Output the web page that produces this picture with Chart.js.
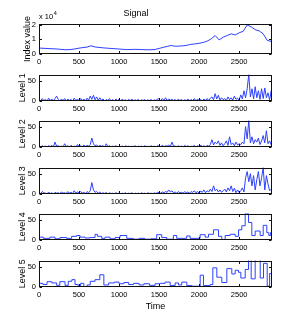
<!DOCTYPE html>
<html>
<head>
<meta charset="utf-8">
<script src="https://cdn.jsdelivr.net/npm/chart.js@4.4.1/dist/chart.umd.min.js"></script>
<style>
html, body { margin: 0; padding: 0; background: #fff; }
#wrap { position: relative; width: 300px; height: 327px; overflow: hidden; }
#wrap canvas { position: absolute; left: 0; }
</style>
</head>
<body>
<div id="wrap"></div>
<script>
const X_MAX = 2910;
const X_TICKS = [0, 500, 1000, 1500, 2000, 2500];
const LEVEL_TICKS = [0, 50];
const SIGNAL_TICKS = [0, 10000, 20000];
const Y_LABELS = ['Index value', 'Level 1', 'Level 2', 'Level 3', 'Level 4', 'Level 5'];

// index value, one reading every 50 time steps
const SIGNAL_STEP = 50;
const SIGNAL = [4100, 3900, 3800, 3600, 3500, 3300, 3000, 2900, 3100, 3500,
  4000, 4400, 4700, 5600, 4800, 4500, 4200, 4000, 3800, 3600,
  3400, 3200, 3000, 3100, 3200, 3100, 3000, 2900, 2900, 3100,
  3800, 4500, 5200, 5800, 5300, 5400, 5600, 6000, 6600, 6900,
  7300, 7900, 8800, 10300, 12600, 9600, 11500, 12600, 13800, 13000,
  14500, 15500, 19800, 18600, 16600, 15800, 13800, 9300, 8600];

// detail levels 1-3, one reading every 20 time steps
const NOISE_STEP = 20;
const LEVEL1 = [5,0,6,1,4,0,7,1,5,0, 6,12,4,0,5,1,6,0,5,1, 4,0,7,1,5,0,6,1,5,0,
  7,2,12,4,14,3,10,2,8,1,
  5,0,4,1,6,0,4,0,5,1, 4,0,5,1,3,0,4,1,5,0, 3,1,4,0,3,1,4,0,3,1, 4,0,3,1,5,
  5,1,6,2,8,1,5,2,4,1,
  4,0,5,1,4,0,3,1,5,0, 4,1,6,0,5,1,4,0,5,1, 6,1,7,
  10,3,18,5,14,2,8,3,
  6,1,10,3,8,2,12,4,7,2,
  15,5,25,8,30,
  65,10,30,5,35,8,25,4,30,6, 32,8,20,3,25,5];
const LEVEL2 = [2,0,3,1,2,0,3,1,4,0, 12,2,3,1,2,0,8,1,3,0, 4,1,2,0,6,1,3,0,5,1,
  4,2,6,22,8,3,5,1,4,2,
  3,0,8,1,3,0,2,1,3,0, 2,1,2,0,3,1,2,0,2,1, 3,0,2,1,2,0,3,1,2,0, 3,1,2,0,3,
  2,1,4,1,3,2,5,1,12,3,
  2,0,3,1,2,0,4,1,3,0, 2,1,4,0,3,1,5,1,3,0, 4,2,6,
  18,5,12,8,15,4,10,3,
  8,15,4,25,6,10,3,12,5,8,
  6,12,8,50,20,
  65,10,25,8,18,12,22,6,15,28, 10,40,8,15,5,12];
const LEVEL3 = [5,1,6,3,2,0,5,1,3,0, 4,2,3,1,5,2,3,1,6,2, 4,1,8,2,5,3,6,2,4,1,
  6,3,8,28,10,4,6,2,5,1,
  3,1,4,0,3,1,2,0,3,1, 2,0,2,1,3,0,2,1,3,0, 2,1,2,0,3,1,2,0,3,1, 2,0,3,1,4,
  3,2,5,3,6,4,10,5,8,3,
  5,2,6,3,4,2,6,3,5,2, 6,4,8,3,6,2,7,4,10,3, 8,5,12,
  6,20,8,12,5,10,4,8,
  12,5,15,8,20,6,14,3,10,4,
  8,15,5,40,55,
  30,50,20,45,10,35,55,20,40,65, 10,45,25,8,12,15];

// levels 4-5 are piecewise constant: step start times and values
const LEVEL4_T = [0,54,137,200,262,345,408,470,512,575,637,700,729,783,825,887,950,1012,1096,1179,
  1250,1320,1400,1470,1533,1595,1679,1720,1845,1887,2012,2075,2117,2179,2242,2283,2325,2387,2450,2492,
  2533,2575,2617,2658,2700,2762,2800,2845,2870,2890];
const LEVEL4 = [7,4,7,3,6,4,9,11,7,5,6,14,9,4,7,3,6,11,4,2,
  4,2,3,13,6,2,11,4,10,4,13,7,14,25,9,1,11,14,9,25,
  35,65,43,11,22,11,36,18,11,18];
const LEVEL5_T = [0,50,100,160,220,260,325,365,410,450,490,520,560,600,640,700,760,810,870,940,
  1000,1060,1120,1180,1250,1310,1380,1450,1513,1575,1638,1700,1742,1783,1846,1908,2013,2054,2138,2171,
  2221,2283,2346,2408,2450,2492,2521,2575,2617,2650,2700,2763,2804,2850,2880];
const LEVEL5 = [9,6,13,10,4,13,4,14,18,6,2,9,0,5,14,18,30,5,10,12,
  8,11,6,9,5,8,4,8,9,12,3.5,10,5,12,3.5,2,29,3.5,6,47,
  24,11,45,32,41,36,22,43,70,20,70,22,58,2,33];

const FONT = 'Liberation Sans, Arial, sans-serif';
const LINE = 'rgb(45,65,255)';
const PANEL_TOPS = [24, 70.5, 117, 163.5, 210, 256.5];

function evenPoints(values, step) {
  return values.map((v, i) => ({ x: i * step, y: v }));
}
function stepPoints(times, values) {
  const pts = times.map((t, i) => ({ x: t, y: values[i] }));
  pts.push({ x: X_MAX, y: values[values.length - 1] });
  return pts;
}

const boxPlugin = {
  id: 'box',
  afterDraw(chart) {
    const { ctx, chartArea: a, scales: { x, y } } = chart;
    const l = Math.round(a.left) + 0.5, r = Math.round(a.right) - 0.5;
    const t = Math.round(a.top) + 0.5, b = Math.round(a.bottom) - 0.5;
    ctx.save();
    ctx.strokeStyle = '#111';
    ctx.lineWidth = 1;
    ctx.beginPath();
    x.ticks.forEach(tk => {
      const px = Math.round(x.getPixelForValue(tk.value)) + 0.5;
      ctx.moveTo(px, b); ctx.lineTo(px, b - 2.5);
      ctx.moveTo(px, t); ctx.lineTo(px, t + 2.5);
    });
    y.ticks.forEach(tk => {
      const py = Math.round(y.getPixelForValue(tk.value)) + 0.5;
      ctx.moveTo(l, py); ctx.lineTo(l + 2.5, py);
      ctx.moveTo(r, py); ctx.lineTo(r - 2.5, py);
    });
    ctx.stroke();
    ctx.strokeRect(l, t, r - l, b - t);
    if (chart.options.plugins.box && chart.options.plugins.box.exponent) {
      ctx.fillStyle = '#000';
      ctx.textBaseline = 'alphabetic';
      ctx.font = '7.5px ' + FONT;
      ctx.fillText('x 10', a.left, a.top - 5);
      const w = ctx.measureText('x 10').width;
      ctx.font = '5.5px ' + FONT;
      ctx.fillText('4', a.left + w + 0.5, a.top - 9);
    }
    ctx.restore();
  }
};

function makePanel(i, points, opts) {
  const first = i === 0, last = i === 5;
  const canvasTop = first ? 0 : PANEL_TOPS[i] - 4;
  const padTop = first ? 0 : 4;
  const xHeight = last ? 26 : 12;
  const height = (first ? 24 : 4) + 30 + xHeight;
  const cv = document.createElement('canvas');
  cv.width = 300; cv.height = height;
  cv.style.top = canvasTop + 'px';
  document.getElementById('wrap').appendChild(cv);

  new Chart(cv.getContext('2d'), {
    type: 'line',
    data: {
      datasets: [{
        data: points,
        borderColor: LINE,
        borderWidth: 1,
        pointRadius: 0,
        fill: false,
        tension: 0,
        stepped: opts.stepped ? 'before' : false
      }]
    },
    options: {
      responsive: false,
      animation: false,
      devicePixelRatio: 1,
      layout: { padding: { top: padTop, right: 28, bottom: 0, left: 0 } },
      plugins: {
        legend: { display: false },
        tooltip: { enabled: false },
        title: {
          display: first,
          text: 'Signal',
          color: '#000',
          font: { family: FONT, size: 9, weight: 'normal' },
          padding: { top: 8, bottom: 5.2 }
        },
        box: { exponent: first }
      },
      scales: {
        x: {
          type: 'linear',
          min: 0,
          max: X_MAX,
          afterBuildTicks: s => { s.ticks = X_TICKS.map(v => ({ value: v })); },
          afterFit: s => { s.height = xHeight; },
          grid: { display: false, drawTicks: false },
          border: { display: false },
          ticks: {
            color: '#000',
            font: { family: FONT, size: 7.5 },
            padding: 3,
            maxRotation: 0,
            autoSkip: false,
            callback: v => String(v)
          },
          title: {
            display: last,
            text: 'Time',
            color: '#000',
            font: { family: FONT, size: 9 },
            padding: { top: 0, bottom: 0.8 }
          }
        },
        y: {
          min: 0,
          max: opts.max,
          afterBuildTicks: s => { s.ticks = opts.ticks.map(v => ({ value: v })); },
          afterFit: s => { s.width = 39; },
          grid: { display: false, drawTicks: false },
          border: { display: false },
          ticks: {
            color: '#000',
            font: { family: FONT, size: 7.5 },
            padding: 3,
            callback: opts.fmt || (v => String(v))
          },
          title: {
            display: true,
            text: Y_LABELS[i],
            color: '#000',
            font: { family: FONT, size: 9 },
            padding: { top: first ? 22 : 17.6, bottom: 0 }
          }
        }
      }
    },
    plugins: [boxPlugin]
  });
}

makePanel(0, evenPoints(SIGNAL, SIGNAL_STEP), { max: 20500, ticks: SIGNAL_TICKS, fmt: v => String(v / 10000) });
makePanel(1, evenPoints(LEVEL1, NOISE_STEP), { max: 65, ticks: LEVEL_TICKS });
makePanel(2, evenPoints(LEVEL2, NOISE_STEP), { max: 65, ticks: LEVEL_TICKS });
makePanel(3, evenPoints(LEVEL3, NOISE_STEP), { max: 65, ticks: LEVEL_TICKS });
makePanel(4, stepPoints(LEVEL4_T, LEVEL4), { max: 65, ticks: LEVEL_TICKS, stepped: true });
makePanel(5, stepPoints(LEVEL5_T, LEVEL5), { max: 65, ticks: LEVEL_TICKS, stepped: true });
</script>
</body>
</html>
